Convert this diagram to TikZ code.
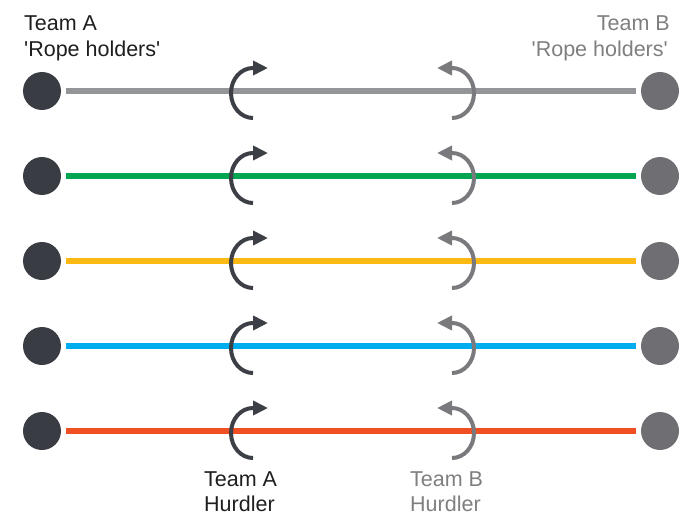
\documentclass[tikz,border=0pt]{standalone}
\usepackage{fontspec}
\setmainfont{Liberation Sans}
\usetikzlibrary{arrows.meta}
\definecolor{darkc}{HTML}{3A3C43}
\definecolor{greyc}{HTML}{6F6E73}
\definecolor{arrA}{HTML}{3C3F46}
\definecolor{arrB}{HTML}{7A797D}
\definecolor{txtA}{HTML}{1E1E1E}
\definecolor{txtB}{HTML}{7F7F7F}
\definecolor{rope1}{HTML}{939598}
\definecolor{rope2}{HTML}{00A651}
\definecolor{rope3}{HTML}{FDB913}
\definecolor{rope4}{HTML}{00AEEF}
\definecolor{rope5}{HTML}{F04E23}
\tikzset{
  holderA/.style={circle,fill=darkc,minimum size=38pt,inner sep=0pt},
  holderB/.style={circle,fill=greyc,minimum size=38pt,inner sep=0pt},
  rope/.style={line width=6.5pt},
  hurdA/.style={draw=arrA,line width=4pt,-{Triangle[length=15pt,width=14pt]}},
  hurdB/.style={draw=arrB,line width=4pt,-{Triangle[length=15pt,width=14pt]}},
  lbl/.style={font=\fontsize{21.5}{26}\selectfont,inner sep=0pt}
}
\begin{document}
\begin{tikzpicture}[x=1pt,y=-1pt]
\useasboundingbox (0,0) rectangle (682,516);
\foreach \i/\y in {1/91,2/176,3/261,4/346,5/431}{
  \node[holderA] (a\i) at (42,\y) {};
  \node[holderB] (b\i) at (660,\y) {};
  \draw[rope,rope\i] ([xshift=5pt]a\i.east) -- ([xshift=-5pt]b\i.west);
  \draw[hurdA] (253,\y+27) arc[start angle=90,end angle=270,x radius=22,y radius=25] -- ++(15,0);
  \draw[hurdB] (452,\y+27) arc[start angle=90,end angle=-90,x radius=22,y radius=25] -- ++(-15,0);
}
\node[lbl,txtA,anchor=base west] (ta) at (24,31) {Team A};
\node[lbl,txtA,anchor=base west] (tar) at (24,57) {\textquotesingle Rope holders\textquotesingle};
\node[lbl,txtB,anchor=base east] (tb) at (670,31) {Team B};
\node[lbl,txtB,anchor=base east] (tbr) at (668,57) {\textquotesingle Rope holders\textquotesingle};
\node[lbl,txtA,anchor=base west] (ha) at (204,486) {Team A};
\node[lbl,txtA,anchor=base west] (har) at (204,511) {Hurdler};
\node[lbl,txtB,anchor=base west] (hb) at (410,486) {Team B};
\node[lbl,txtB,anchor=base west] (hbr) at (410,511) {Hurdler};
\end{tikzpicture}
\end{document}
